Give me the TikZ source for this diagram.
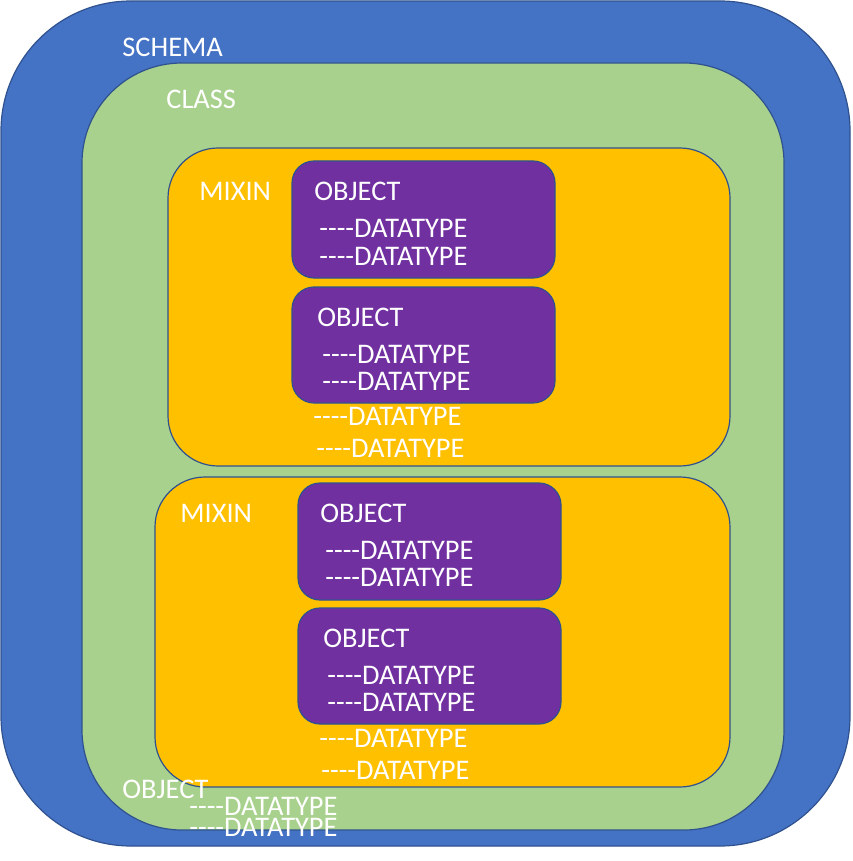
\documentclass[tikz,border=0pt]{standalone}
\usepackage{fontspec}
\setmainfont[Ligatures=TeXOff]{Carlito}
\definecolor{schemablue}{HTML}{4472C4}
\definecolor{edgeblue}{HTML}{2F528F}
\definecolor{classgreen}{HTML}{A9D18E}
\definecolor{mixinorange}{HTML}{FFC000}
\definecolor{objpurple}{HTML}{7030A0}
\newcommand{\dtype}{----DATATYPE}
\begin{document}
\begin{tikzpicture}[x=0.5pt,y=-0.5pt,
  box/.style={draw=edgeblue,line width=0.6pt},
  lbl/.style={anchor=west,inner sep=0pt,text=white,
    font=\fontsize{14.2}{14.2}\selectfont}]
\useasboundingbox (0,0) rectangle (852,861);

% Schema and class
\draw[box,fill=schemablue,rounded corners=65pt] (1,1) rectangle (850,846);
\node[lbl] (schema) at (122,47) {SCHEMA};
\draw[box,fill=classgreen,rounded corners=50pt] (82,63) rectangle (784,830);
\node[lbl] (class) at (166,99) {CLASS};

% First mixin
\draw[box,fill=mixinorange,rounded corners=25pt] (168,148) rectangle (730,466);
\node[lbl] (mixinA) at (199,191) {MIXIN};
\draw[box,fill=objpurple,rounded corners=11pt] (292,161) rectangle (555,278);
\node[lbl] (objA) at (314,191) {OBJECT};
\node[lbl] (objAa) at (319,228) {\dtype};
\node[lbl] (objAb) at (319,256) {\dtype};
\draw[box,fill=objpurple,rounded corners=11pt] (292,287) rectangle (555,403);
\node[lbl] (objB) at (317,317) {OBJECT};
\node[lbl] (objBa) at (322,354) {\dtype};
\node[lbl] (objBb) at (322,381) {\dtype};
\node[lbl] (mixinAa) at (313,416) {\dtype};
\node[lbl] (mixinAb) at (316,448) {\dtype};

% Second mixin
\draw[box,fill=mixinorange,rounded corners=25pt] (155,477) rectangle (730,787);
\node[lbl] (mixinB) at (180,513) {MIXIN};
\draw[box,fill=objpurple,rounded corners=11pt] (298,483) rectangle (561,600);
\node[lbl] (objC) at (320,513) {OBJECT};
\node[lbl] (objCa) at (325,550) {\dtype};
\node[lbl] (objCb) at (325,577) {\dtype};
\draw[box,fill=objpurple,rounded corners=11pt] (298,608) rectangle (561,724);
\node[lbl] (objD) at (323,638) {OBJECT};
\node[lbl] (objDa) at (327,675) {\dtype};
\node[lbl] (objDb) at (327,702) {\dtype};
\node[lbl] (mixinBa) at (319,738) {\dtype};
\node[lbl] (mixinBb) at (321,770) {\dtype};

% Loose object in the class
\node[lbl] (objE) at (122,789) {OBJECT};
\node[lbl] (objEa) at (189,806) {\dtype};
\node[lbl] (objEb) at (189,827) {\dtype};
\end{tikzpicture}
\end{document}
